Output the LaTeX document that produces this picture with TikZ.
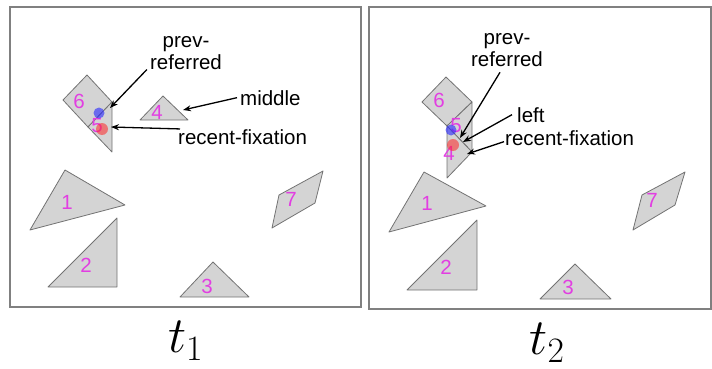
\documentclass[tikz,border=0pt]{standalone}
\usepackage{fix-cm}
\usepackage{fontspec}
\newfontfamily\labelfont{Liberation Sans}
\usepackage{xcolor}
\usetikzlibrary{positioning, arrows.meta}
\definecolor{digitmag}{RGB}{226,62,226}

\begin{document}
\begin{tikzpicture}[x=1pt, y=-1pt, font=\labelfont\fontsize{20.5}{22}\selectfont]
    \tikzset{
        frame/.style={rectangle, draw=black!50, line width=1.6pt, inner sep=0pt},
        piece/.style={fill=black!17, draw=black!55, line width=0.8pt, line join=round},
        num/.style={text=digitmag, inner sep=0pt},
        lbl/.style={inner sep=0pt, align=center},
        arrow/.style={line width=1.3pt, -{Stealth[length=8pt, width=6pt]}},
        captext/.style={inner sep=0pt, font=\fontsize{51}{56}\selectfont}
    }
    \useasboundingbox (0,0) rectangle (712,369);
    \node[frame, minimum width=351pt, minimum height=300pt] (frame1) at (185.5,157) {};
    \node[frame, minimum width=342pt, minimum height=302pt] (frame2) at (540,158) {};

    % t1 pieces
    \filldraw[piece] (63,100) -- (87,75) -- (112,102) -- (88,127) -- cycle;
    \filldraw[piece] (88,127) -- (112,102) -- (112,152) -- cycle;
    \filldraw[piece] (140,120) -- (163,96) -- (188,120) -- cycle;
    \filldraw[piece] (30,230) -- (65,170) -- (125,205) -- cycle;
    \filldraw[piece] (48,287) -- (117,287) -- (117,218) -- cycle;
    \filldraw[piece] (180,297) -- (213,262) -- (249,297) -- cycle;
    \filldraw[piece] (272,228) -- (279,195) -- (323,171) -- (315,203) -- cycle;
    \node[num] (a6) at (79,101) {6};
    \node[num] (a5) at (97,126) {5};
    \node[num] (a4) at (157,112) {4};
    \node[num] (a1) at (67,202) {1};
    \node[num] (a2) at (86,265) {2};
    \node[num] (a3) at (207,286) {3};
    \node[num] (a7) at (291,199) {7};
    \fill[blue!85, opacity=0.6] (99,113) circle (5.5);
    \fill[red!85, opacity=0.55] (102,129) circle (6);

    % t2 pieces
    \filldraw[piece] (422,102) -- (446,77) -- (472,102) -- (447,126) -- cycle;
    \filldraw[piece] (447,126) -- (472,102) -- (472,152) -- cycle;
    \filldraw[piece] (447,126) -- (472,152) -- (447,178) -- cycle;
    \filldraw[piece] (389,232) -- (424,172) -- (486,206) -- cycle;
    \filldraw[piece] (407,290) -- (477,290) -- (477,220) -- cycle;
    \filldraw[piece] (540,299) -- (575,264) -- (611,299) -- cycle;
    \filldraw[piece] (633,230) -- (642,195) -- (685,172) -- (675,205) -- cycle;
    \node[num] (b6) at (439,100) {6};
    \node[num] (b5) at (456,126) {5};
    \node[num] (b4) at (449,153) {4};
    \node[num] (b1) at (427,203) {1};
    \node[num] (b2) at (446,267) {2};
    \node[num] (b3) at (568,287) {3};
    \node[num] (b7) at (652,200) {7};
    \fill[blue!85, opacity=0.6] (451,130) circle (5.5);
    \fill[red!85, opacity=0.55] (453,145) circle (6);

    % labels
    \node[lbl] (prev1) at (186,52.7) {prev-\\referred};
    \node[lbl, anchor=base west] (mid1) at (240,105) {middle};
    \node[lbl, anchor=base west] (rec1) at (178,144) {recent-fixation};
    \node[lbl] (prev2) at (507,50.5) {prev-\\referred};
    \node[lbl, anchor=base west] (left2) at (517,122) {left};
    \node[lbl, anchor=base west] (rec2) at (505,145) {recent-fixation};

    \coordinate (prev1tip) at (110,108);
    \coordinate (mid1tip) at (183,110);
    \coordinate (rec1tip) at (111,127);
    \coordinate (prev2tip) at (460,138);
    \coordinate (left2tip) at (463,142);
    \coordinate (rec2tip) at (467,154);

    \draw[arrow] ([xshift=-3pt]prev1.south west) -- (prev1tip);
    \draw[arrow] ([xshift=-3pt]mid1.west) -- (mid1tip);
    \draw[arrow] ([xshift=2pt]rec1.north west) -- (rec1tip);
    \draw[arrow] ([xshift=-7pt,yshift=-5pt]prev2.south) -- (prev2tip);
    \draw[arrow] ([xshift=-5pt]left2.west) -- (left2tip);
    \draw[arrow] ([xshift=-1pt,yshift=-4pt]rec2.west) -- (rec2tip);

    % captions
    \node[captext, below=13pt of frame1] (cap1) {$t_1$};
    \node[captext, below=13pt of frame2, xshift=7pt] (cap2) {$t_2$};
\end{tikzpicture}
\end{document}
